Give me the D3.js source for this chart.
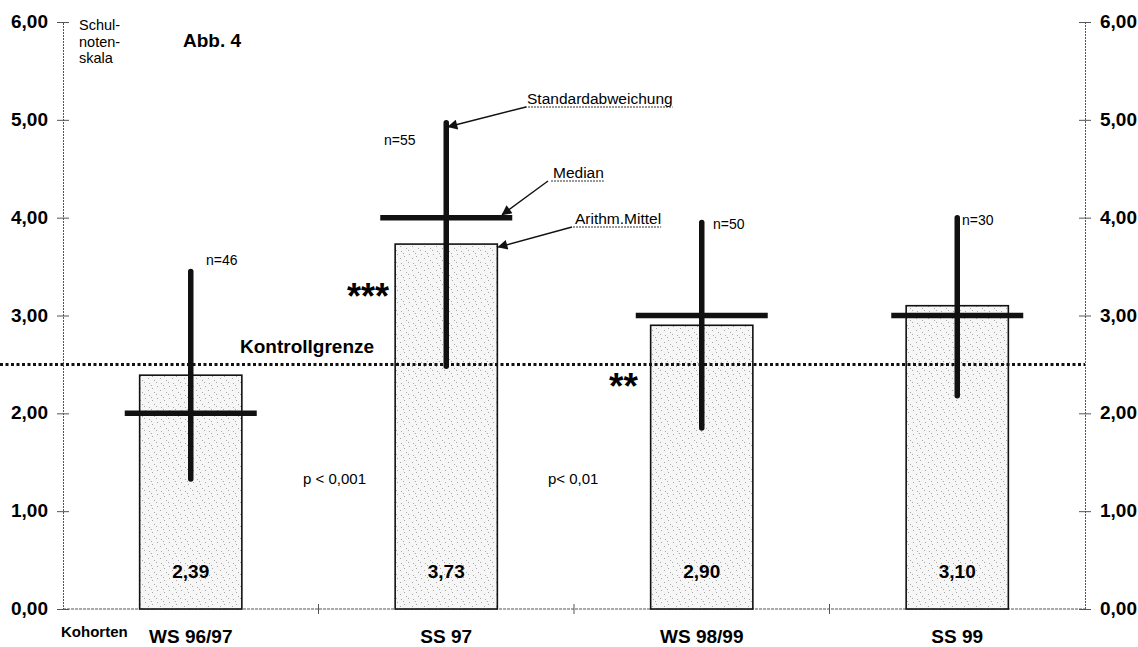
<!DOCTYPE html>
<html>
<head>
<meta charset="utf-8">
<script src="https://cdn.jsdelivr.net/npm/d3@7"></script>
<style>
  body { margin: 0; background: #fff; }
  svg { font-family: "Liberation Sans", Arial, sans-serif; }
</style>
</head>
<body>
<script>
// Kohorten und Werte
const cohorts = ["WS 96/97", "SS 97", "WS 98/99", "SS 99"];
const means = [2.39, 3.73, 2.90, 3.10];
const medians = [2.0, 4.0, 3.0, 3.0];
const sdLow = [1.33, 2.48, 1.85, 2.18];
const sdHigh = [3.45, 4.97, 3.95, 4.0];
const counts = [46, 55, 50, 30];
const yTicks = [0, 1, 2, 3, 4, 5, 6];
const controlLimit = 2.5;

const width = 1138, height = 647;
const plotLeft = 63, plotRight = 1085, plotTop = 22, plotBottom = 609;

const fmt = v => d3.format(".2f")(v).replace(".", ",");

const svg = d3.select("body").append("svg")
  .attr("width", width)
  .attr("height", height);

const x = d3.scaleBand().domain(cohorts).range([plotLeft, plotRight]);
const y = d3.scaleLinear().domain([0, 6]).range([plotBottom, plotTop]);

// stippled fill for bars
const defs = svg.append("defs");
const pat = defs.append("pattern")
  .attr("id", "stipple")
  .attr("patternUnits", "userSpaceOnUse")
  .attr("width", 12).attr("height", 12);
pat.append("rect").attr("width", 12).attr("height", 12).attr("fill", "#f6f6f6");
[[1, 2], [7, 1], [4, 6], [10, 8], [0, 10], [8, 4], [5, 11]].forEach(p => {
  pat.append("rect").attr("x", p[0]).attr("y", p[1])
    .attr("width", 1).attr("height", 1).attr("fill", "#a8a8a8");
});

// axes
const axisColor = "#555";
const yLeft = svg.append("g").attr("transform", `translate(${plotLeft},0)`)
  .call(d3.axisLeft(y).tickValues(yTicks).tickFormat("").tickSize(6));
const yRight = svg.append("g").attr("transform", `translate(${plotRight},0)`)
  .call(d3.axisRight(y).tickValues(yTicks).tickFormat("").tickSize(6));
[yLeft, yRight].forEach(g => {
  g.select(".domain").attr("stroke", axisColor).attr("stroke-dasharray", "2,1");
  g.selectAll(".tick line").attr("x1", -6).attr("x2", 6).attr("stroke", axisColor);
});

svg.append("g").attr("font-weight", "bold").attr("font-size", 19)
  .selectAll("text").data(yTicks).join("text")
  .attr("x", 48).attr("y", d => y(d) + 6)
  .attr("text-anchor", "end").text(fmt);
svg.append("g").attr("font-weight", "bold").attr("font-size", 19)
  .selectAll("text").data(yTicks).join("text")
  .attr("x", 1100).attr("y", d => y(d) + 6)
  .text(fmt);

// x axis line with boundary ticks
svg.append("line").attr("x1", plotLeft).attr("x2", plotRight)
  .attr("y1", plotBottom).attr("y2", plotBottom)
  .attr("stroke", axisColor).attr("stroke-dasharray", "3,1");
svg.append("g").selectAll("line").data(cohorts.slice(1)).join("line")
  .attr("x1", d => x(d)).attr("x2", d => x(d))
  .attr("y1", plotBottom - 5).attr("y2", plotBottom + 5)
  .attr("stroke", axisColor);

svg.append("g").attr("font-weight", "bold").attr("font-size", 19)
  .selectAll("text").data(cohorts).join("text")
  .attr("x", d => x(d) + x.bandwidth() / 2).attr("y", 643)
  .attr("text-anchor", "middle").text(d => d);
svg.append("text").attr("x", 61).attr("y", 637)
  .attr("font-weight", "bold").attr("font-size", 15).text("Kohorten");

// bars (arithm. Mittel)
const barW = x.bandwidth() * 0.4;
const cx = d => x(d) + x.bandwidth() / 2;
svg.append("g").selectAll("rect").data(cohorts).join("rect")
  .attr("x", d => cx(d) - barW / 2)
  .attr("y", (d, i) => y(means[i]))
  .attr("width", barW)
  .attr("height", (d, i) => y(0) - y(means[i]))
  .attr("fill", "url(#stipple)")
  .attr("stroke", "#111").attr("stroke-width", 1.6);

svg.append("g").attr("font-weight", "bold").attr("font-size", 19)
  .selectAll("text").data(cohorts).join("text")
  .attr("x", cx).attr("y", 578)
  .attr("text-anchor", "middle").text((d, i) => fmt(means[i]));

// control limit
svg.append("line").attr("x1", 0).attr("x2", plotRight)
  .attr("y1", y(controlLimit)).attr("y2", y(controlLimit))
  .attr("stroke", "#111").attr("stroke-width", 3).attr("stroke-dasharray", "3,2.5");
svg.append("text").attr("x", 240).attr("y", 353)
  .attr("font-weight", "bold").attr("font-size", 19).text("Kontrollgrenze");

// standard deviation bars
svg.append("g").selectAll("line").data(cohorts).join("line")
  .attr("x1", cx).attr("x2", cx)
  .attr("y1", (d, i) => y(sdLow[i])).attr("y2", (d, i) => y(sdHigh[i]))
  .attr("stroke", "#111").attr("stroke-width", 5.5).attr("stroke-linecap", "round");

// medians
const medHalf = 66;
svg.append("g").selectAll("line").data(cohorts).join("line")
  .attr("x1", d => cx(d) - medHalf).attr("x2", d => cx(d) + medHalf)
  .attr("y1", (d, i) => y(medians[i])).attr("y2", (d, i) => y(medians[i]))
  .attr("stroke", "#111").attr("stroke-width", 5.5);

// n labels
const nPos = [[206, 265], [384, 145], [713, 229], [962, 225]];
svg.append("g").attr("font-size", 14)
  .selectAll("text").data(counts).join("text")
  .attr("x", (d, i) => nPos[i][0]).attr("y", (d, i) => nPos[i][1])
  .text(d => "n=" + d);

// significance
svg.append("text").attr("x", 347).attr("y", 309)
  .attr("font-weight", "bold").attr("font-size", 36).text("***");
svg.append("text").attr("x", 609).attr("y", 399)
  .attr("font-weight", "bold").attr("font-size", 37).text("**");
svg.append("text").attr("x", 303).attr("y", 484).attr("font-size", 15).text("p < 0,001");
svg.append("text").attr("x", 548).attr("y", 484).attr("font-size", 15).text("p< 0,01");

// Schulnotenskala / Abb. 4
const sk = svg.append("text").attr("x", 79).attr("y", 30).attr("font-size", 14.5);
["Schul-", "noten-", "skala"].forEach((t, i) =>
  sk.append("tspan").attr("x", 79).attr("dy", i ? 16.5 : 0).text(t));
svg.append("text").attr("x", 183).attr("y", 47)
  .attr("font-weight", "bold").attr("font-size", 19).text("Abb. 4");

// callouts with arrows
const marker = defs.append("marker")
  .attr("id", "arrow").attr("viewBox", "0 0 10 10")
  .attr("refX", 9).attr("refY", 5)
  .attr("markerWidth", 15).attr("markerHeight", 10)
  .attr("markerUnits", "userSpaceOnUse")
  .attr("orient", "auto");
marker.append("path").attr("d", "M0,0 L10,5 L0,10 Z").attr("fill", "#111");

const callouts = [
  { label: "Standardabweichung", tx: 527, ty: 104, from: [526, 107], to: [cx("SS 97") + 2, y(sdHigh[1]) + 4] },
  { label: "Median", tx: 553, ty: 178, from: [548, 181], to: [cx("SS 97") + 56, y(medians[1]) - 3] },
  { label: "Arithm.Mittel", tx: 575, ty: 224, from: [572, 227], to: [cx("SS 97") + barW / 2 + 1, y(means[1]) + 3] }
];
callouts.forEach(c => {
  const t = svg.append("text").attr("x", c.tx).attr("y", c.ty)
    .attr("font-size", 15.5).text(c.label);
  const w = t.node().getComputedTextLength();
  svg.append("line").attr("x1", c.tx - 2).attr("x2", c.tx + w)
    .attr("y1", c.ty + 3).attr("y2", c.ty + 3)
    .attr("stroke", "#333").attr("stroke-width", 1).attr("stroke-dasharray", "2,1");
  svg.append("line").attr("x1", c.from[0]).attr("y1", c.from[1])
    .attr("x2", c.to[0]).attr("y2", c.to[1])
    .attr("stroke", "#111").attr("stroke-width", 1.4)
    .attr("marker-end", "url(#arrow)");
});
</script>
</body>
</html>
